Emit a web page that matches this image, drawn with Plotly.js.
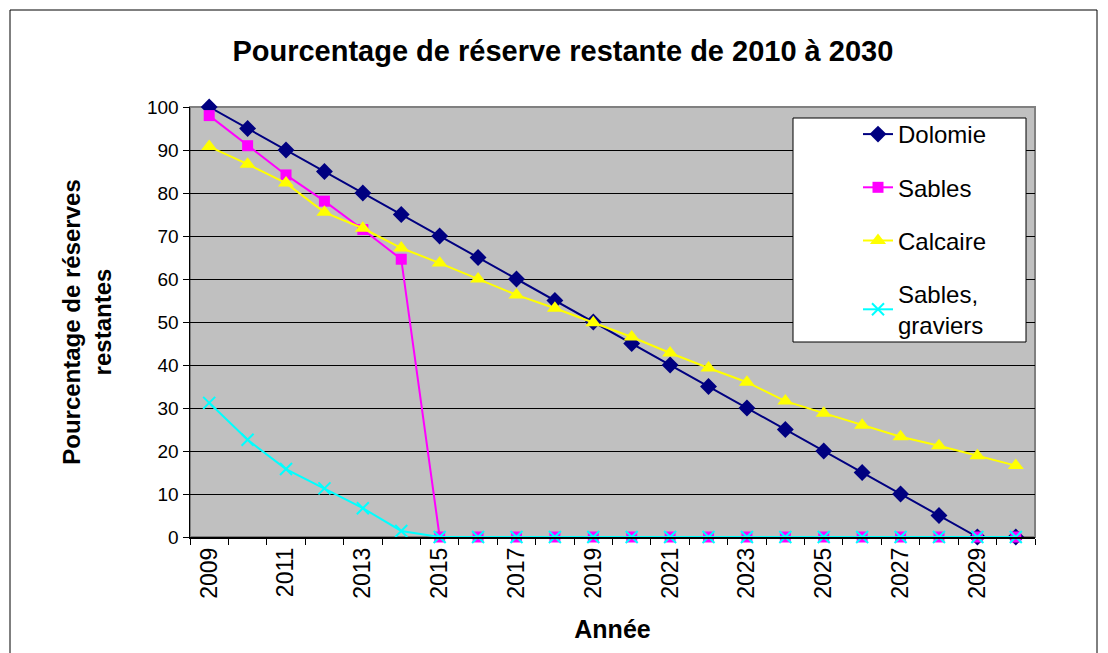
<!DOCTYPE html>
<html>
<head>
<meta charset="utf-8">
<script src="https://cdn.plot.ly/plotly-3.0.1.min.js"></script>
<style>html,body{margin:0;padding:0;background:#fff;}#chart{width:1108px;height:653px;}</style>
</head>
<body>
<div id="chart"></div>
<script>
const years = [2009,2010,2011,2012,2013,2014,2015,2016,2017,2018,2019,2020,2021,2022,2023,2024,2025,2026,2027,2028,2029,2030];
const dolomie = [100,95,90,85,80,75,70,65,60,55,50,45,40,35,30,25,20,15,10,5,0,0];
const sables = [98,91,84.2,78.1,71.5,64.6,0,0,0,0,0,0,0,0,0,0,0,0,0,0,0,0];
const calcaire = [90.8,86.7,82.3,75.5,71.8,67.2,63.7,60,56.3,53.2,49.8,46.5,42.8,39.3,36,31.6,28.8,26,23.3,21.2,18.9,16.6];
const sablesGraviers = [31.2,22.6,15.8,11.3,6.7,1.4,0,0,0,0,0,0,0,0,0,0,0,0,0,0,0,0];
const seriesNames = ['Dolomie','Sables','Calcaire','Sables,<br>graviers'];
const xTickVals = [2009,2011,2013,2015,2017,2019,2021,2023,2025,2027,2029];

const F = 'Liberation Sans, Arial, sans-serif';
const traces = [
  {x: years, y: dolomie, name: seriesNames[0], mode: 'lines+markers', legendgroup: 'a', cliponaxis: false,
   line: {color: '#000080', width: 2}, marker: {symbol: 'diamond', size: 13, color: '#000080'}},
  {x: years, y: sables, name: seriesNames[1], mode: 'lines+markers', legendgroup: 'b', cliponaxis: false,
   line: {color: '#FF00FF', width: 2}, marker: {symbol: 'square', size: 11, color: '#FF00FF'}},
  {x: years, y: calcaire, name: seriesNames[2], mode: 'lines+markers', legendgroup: 'c', cliponaxis: false,
   line: {color: '#FFFF00', width: 2}, marker: {symbol: 'triangle-up', size: 14, color: '#FFFF00'}},
  {x: years, y: sablesGraviers, name: seriesNames[3], mode: 'lines+markers', legendgroup: 'd', cliponaxis: false,
   line: {color: '#00FFFF', width: 2}, marker: {symbol: 'x-thin-open', size: 12, color: '#00FFFF', line: {color: '#00FFFF', width: 2}}}
];

const L = 190, R = 1035, T = 107, B = 537;
const W = R - L, H = B - T;
const px = v => (v - L) / W;
const py = v => 1 - (v - T) / H;

const layout = {
  width: 1108, height: 653,
  margin: {l: L, r: 1108 - R, t: T, b: 653 - B},
  paper_bgcolor: '#ffffff',
  plot_bgcolor: '#C0C0C0',
  font: {family: F, color: '#000', size: 18},
  title: {text: '<b>Pourcentage de réserve restante de 2010 à 2030</b>', font: {family: F, size: 29, color: '#000'},
          x: 0.508, xanchor: 'center', y: 0.922, yanchor: 'middle'},
  showlegend: true,
  legend: {x: px(858), y: py(112), xanchor: 'left', yanchor: 'top', bgcolor: 'rgba(0,0,0,0)', borderwidth: 0,
           font: {family: F, size: 24, color: '#000'}, tracegroupgap: 19, traceorder: 'grouped'},
  xaxis: {
    type: 'linear', range: [2008.5, 2030.5], tickmode: 'array', tickvals: xTickVals,
    ticktext: xTickVals.map(String), tickangle: -90, ticks: '', showgrid: false, zeroline: false,
    showline: true, linecolor: '#000', linewidth: 1.5,
    tickfont: {family: F, size: 23, color: '#000'},
    minor: {ticks: 'outside', tick0: 2008.5, dtick: 1, ticklen: 6, tickcolor: '#000', showgrid: false},
    title: {text: '<b>Année</b>', font: {family: F, size: 25, color: '#000'}, standoff: 22},
    automargin: false, fixedrange: true
  },
  yaxis: {
    range: [0, 100], dtick: 10, tick0: 0, ticks: 'outside', ticklen: 6, tickcolor: '#000',
    showgrid: true, gridcolor: '#000', gridwidth: 1, zeroline: false,
    showline: true, linecolor: '#000', linewidth: 1.5,
    tickfont: {family: F, size: 19, color: '#000'},
    title: {text: '<b>Pourcentage de réserves<br>restantes</b>', font: {family: F, size: 24, color: '#000'}, standoff: 28},
    automargin: false, fixedrange: true
  },
  shapes: [
    {type: 'rect', xref: 'paper', yref: 'paper', x0: px(10), x1: px(1097), y0: py(670), y1: py(10),
     line: {color: '#000', width: 1}, fillcolor: 'rgba(0,0,0,0)', layer: 'below'},
    {type: 'rect', xref: 'paper', yref: 'paper', x0: 0, x1: 1, y0: 0, y1: 1,
     line: {color: '#808080', width: 2}, fillcolor: 'rgba(0,0,0,0)', layer: 'below'},
    {type: 'rect', xref: 'paper', yref: 'paper', x0: px(793), x1: px(1026), y0: py(342), y1: py(118),
     line: {color: '#000', width: 1}, fillcolor: '#ffffff', layer: 'above'}
  ]
};

Plotly.newPlot('chart', traces, layout, {displayModeBar: false, staticPlot: true});
</script>
</body>
</html>
